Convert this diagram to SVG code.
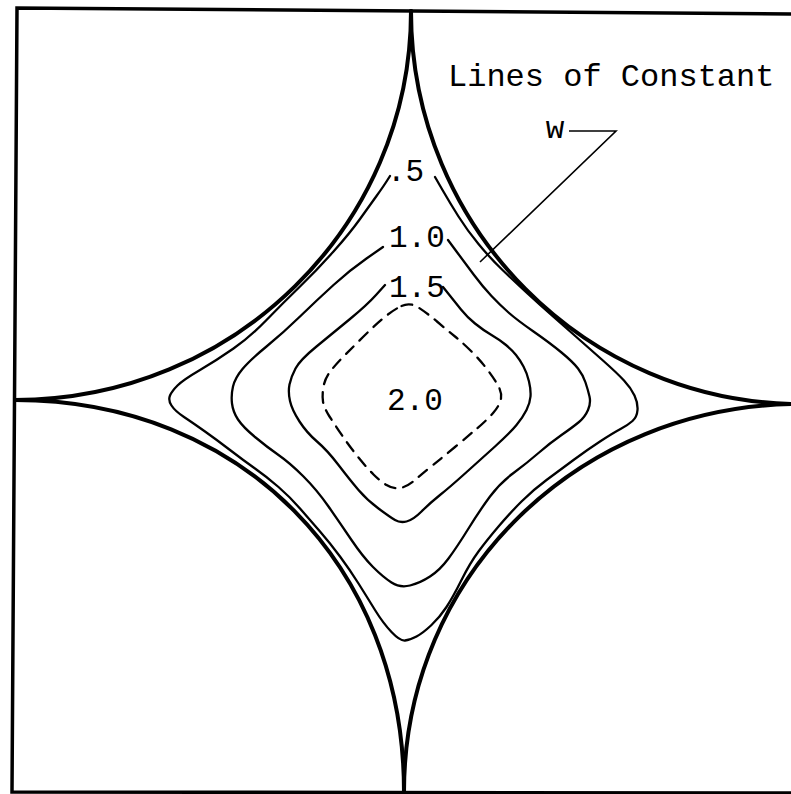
<svg xmlns="http://www.w3.org/2000/svg" width="791" height="794" viewBox="0 0 791 794">
<style>
.frame{fill:none;stroke:#000;stroke-width:3.5;stroke-linejoin:miter}
.arc{fill:none;stroke:#000;stroke-width:4;stroke-linecap:round}
.c{fill:none;stroke:#000;stroke-width:2.3;stroke-linejoin:round;stroke-linecap:round}
.dash{stroke-dasharray:11 8}
.lead{fill:none;stroke:#000;stroke-width:1.6}
text{font-family:"Liberation Mono","Courier New",monospace;fill:#000}
.lbl{font-size:31px}
.title{font-size:32px}
</style>
<rect width="791" height="794" fill="#fff"/>
<g id="frame">
<path class="frame" d="M805,14 L17,8 L12,792 L805,793"/>
</g>
<g id="boundary">
<path class="arc" d="M411,11 C411,226 234,400 15,400"/>
<path class="arc" d="M411,11 C411,228 586,404 801,404"/>
<path class="arc" d="M15,400 C241,400 404,565 404,792"/>
<path class="arc" d="M404,792 C404,575 579,404 801,404"/>
</g>
<g id="contour-0.5">
<path class="c" d="M435,177 L442.5,190 Q450,203 458.5,216.5 Q467,230 478.5,244 Q490,258 502.5,270 Q515,282 527.5,293.5 Q540,305 552.5,316 Q565,327 577.5,338 Q590,349 603.5,361 Q617,373 624,380.5 Q631,388 634.5,395.5 Q638,403 637.5,410 Q637,417 632.5,421 Q628,425 620.5,429 Q613,433 600,441.5 Q587,450 573.5,460 Q560,470 546.5,480 Q533,490 521.5,501.5 Q510,513 498.5,526.5 Q487,540 478.5,551.5 Q470,563 461.5,580 Q453,597 446.5,607 Q440,617 431.5,625 Q423,633 416.5,636.5 Q410,640 405,640.5 Q400,641 391.5,632 Q383,623 375,610 Q367,597 358.5,583.5 Q350,570 340,556.5 Q330,543 320,531.5 Q310,520 300,508.5 Q290,497 278.5,487 Q267,477 255,468.5 Q243,460 230,450 Q217,440 205,431.5 Q193,423 184,417 Q175,411 171.5,405.5 Q168,400 170,395.5 Q172,391 177.5,385.5 Q183,380 200,370 Q217,360 233.5,348.5 Q250,337 266.5,320 Q283,303 300,286.5 Q317,270 333.5,251.5 Q350,233 360,219 Q370,205 376.5,196 Q383,187 386.5,181.5 L390,176"/>
<text class="lbl" x="387" y="181">.5</text>
</g>
<g id="contour-1.0">
<path class="c" d="M448,240 L456.5,251.5 Q465,263 474,275 Q483,287 491.5,296 Q500,305 508.5,312.5 Q517,320 533.5,331.5 Q550,343 561.5,352.5 Q573,362 578,368.5 Q583,375 585.5,382.5 Q588,390 589.5,396.5 Q591,403 588,410 Q585,417 579,422 Q573,427 561.5,435 Q550,443 538.5,453 Q527,463 513.5,473 Q500,483 490,496.5 Q480,510 468.5,528.5 Q457,547 448.5,558.5 Q440,570 430,576.5 Q420,583 410,585.5 Q400,588 391.5,582.5 Q383,577 373,567 Q363,557 351.5,540 Q340,523 328.5,506.5 Q317,490 303.5,476.5 Q290,463 278.5,455 Q267,447 255,437 Q243,427 238,419.5 Q233,412 232,403.5 Q231,395 233,386.5 Q235,378 242.5,369 Q250,360 266.5,346.5 Q283,333 300,316.5 Q317,300 333.5,285 Q350,270 366.5,258.5 L383,247"/>
<text class="lbl" x="389" y="247">1.0</text>
</g>
<g id="contour-1.5">
<path class="c" d="M443,287 L449,294.5 Q455,302 461,309.5 Q467,317 475,323.5 Q483,330 491.5,335 Q500,340 506,345 Q512,350 516,355 Q520,360 523.5,366.5 Q527,373 529,381.5 Q531,390 530.5,396.5 Q530,403 526.5,410 Q523,417 516.5,425 Q510,433 495,446.5 Q480,460 465,473.5 Q450,487 440,495 Q430,503 421.5,511.5 Q413,520 406.5,521.5 Q400,523 395,520 Q390,517 378.5,508.5 Q367,500 358.5,490 Q350,480 338.5,465 Q327,450 317,441.5 Q307,433 299.5,421.5 Q292,410 290,401 Q288,392 289.5,384.5 Q291,377 295.5,368.5 Q300,360 316.5,346.5 Q333,333 350,319 Q367,305 376,295 L385,285"/>
<text class="lbl" x="389" y="297">1.5</text>
</g>
<g id="contour-2.0">
<path class="c dash" d="M401.5,306 Q410,302 418.5,307.5 Q427,313 437,321.5 Q447,330 455,336.5 Q463,343 471.5,351.5 Q480,360 486.5,368.5 Q493,377 497.5,384.5 Q502,392 501,398.5 Q500,405 493.5,412.5 Q487,420 477,428.5 Q467,437 455,447 Q443,457 433,465 Q423,473 415,480 Q407,487 400,488 Q393,489 386.5,485 Q380,481 373.5,474.5 Q367,468 358.5,457.5 Q350,447 342.5,436 Q335,425 329.5,416.5 Q324,408 323,401.5 Q322,395 323.5,386.5 Q325,378 331,370.5 Q337,363 345,355 Q353,347 363,337 Q373,327 383,318.5 Q393,310 401.5,306 Z"/>
<text class="lbl" x="387" y="410">2.0</text>
</g>
<g id="legend">
<text class="title" x="448" y="86">Lines of Constant</text>
<text class="lbl" x="555" y="138" text-anchor="middle">w</text>
</g>
<g id="connectors">
<polyline class="lead" points="569,131 616,131 480,262"/>
</g>
</svg>
